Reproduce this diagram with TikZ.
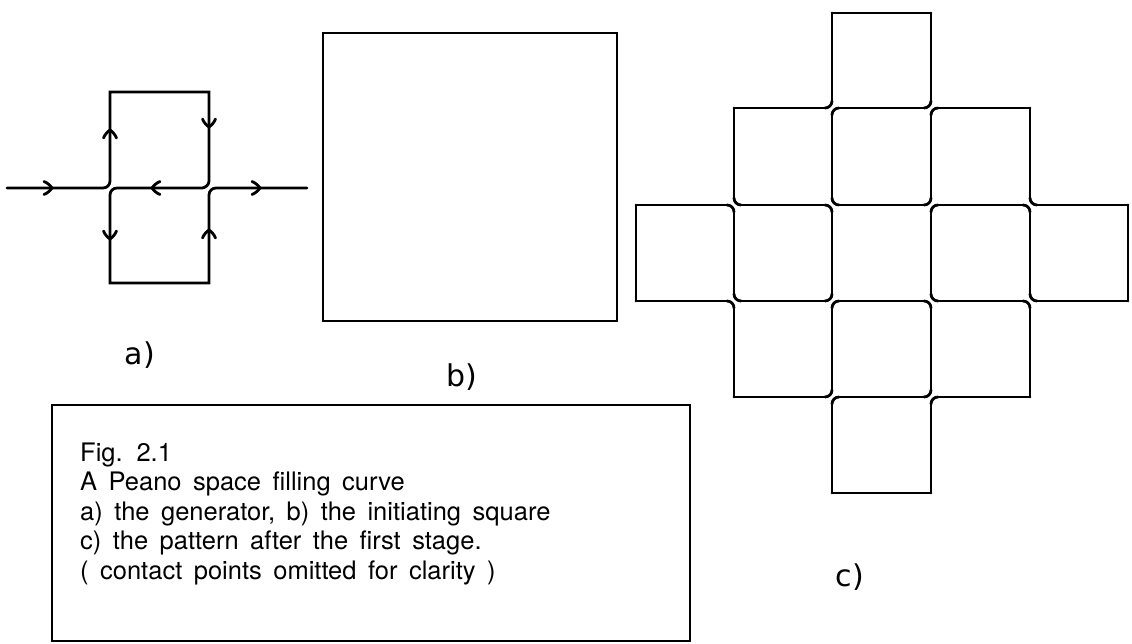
\documentclass[tikz,border=0pt]{standalone}
\usepackage{fontspec}
\newfontfamily\capfont{TeX Gyre Heros}
\newfontfamily\labfont{DejaVu Sans}
\newcommand\capsetup{\capfont\fontsize{25.5}{30}\selectfont\spaceskip=0.45em plus 0.1em\relax}
\begin{document}
\begin{tikzpicture}[x=1pt,y=-1pt,
  ln/.style={line width=2.8pt,line cap=round,line join=miter},
  chev/.pic={\draw[ln,line join=round] (-8,-6.5) .. controls (-4,-5) and (-1.5,-2) .. (0,0)
              .. controls (-1.5,2) and (-4,5) .. (-8,6.5);},
  captxt/.style={anchor=base west,inner sep=0pt,font=\capsetup},
  labtxt/.style={inner sep=0pt,font=\labfont\fontsize{30}{30}\selectfont}]
\useasboundingbox (0,0) rectangle (1132,644);

% ---- a) generator
\draw[ln] (7,188) -- (103,188) .. controls (106.9,188) and (110,184.9) .. (110,181)
  -- (110,92) -- (209,92) -- (209,181) .. controls (209,184.9) and (205.1,188) .. (202,188)
  -- (117,188) .. controls (113.1,188) and (110,191.1) .. (110,195)
  -- (110,283) -- (209,283) -- (209,195) .. controls (209,191.1) and (212.1,188) .. (216,188)
  -- (307,188);
\pic at (52,188) {chev};
\pic[rotate=90] at (110,130) {chev};
\pic[rotate=-90] at (209,127) {chev};
\pic[rotate=180] at (152,188) {chev};
\pic at (260,188) {chev};
\pic[rotate=-90] at (110,239) {chev};
\pic[rotate=90] at (209,230) {chev};

% ---- b) initiating square
\draw[ln] (323,33) rectangle (617,321);

% ---- c) first stage
\foreach \y/\a/\b in {13/832/931,
  108/734/825, 108/839/924, 108/938/1030,
  205/636/727, 205/741/825, 205/839/924, 205/938/1023, 205/1037/1128,
  301/636/727, 301/741/825, 301/839/924, 301/938/1023, 301/1037/1128,
  397/734/825, 397/839/924, 397/938/1030,
  493/832/931}
  \draw[ln] (\a,\y) -- (\b,\y);
\foreach \x/\a/\b in {636/205/301, 1128/205/301,
  734/108/198, 734/212/294, 734/308/397,
  1030/108/198, 1030/212/294, 1030/308/397,
  832/13/101, 832/115/198, 832/212/294, 832/308/390, 832/404/493,
  931/13/101, 931/115/198, 931/212/294, 931/308/390, 931/404/493}
  \draw[ln] (\x,\a) -- (\x,\b);
% corners joining left-up and down-right
\foreach \x/\y in {832/108, 931/108, 931/205, 832/301, 832/397, 931/397}{
  \draw[ln] (\x-7,\y) .. controls (\x-3.1,\y) and (\x,\y-3.1) .. (\x,\y-7);
  \draw[ln] (\x,\y+7) .. controls (\x,\y+3.1) and (\x+3.1,\y) .. (\x+7,\y);
}
% corners joining up-right and left-down
\foreach \x/\y in {734/205, 832/205, 1030/205, 734/301, 931/301, 1030/301}{
  \draw[ln] (\x,\y-7) .. controls (\x,\y-3.1) and (\x+3.1,\y) .. (\x+7,\y);
  \draw[ln] (\x-7,\y) .. controls (\x-3.1,\y) and (\x,\y+3.1) .. (\x,\y+7);
}

% ---- labels
\node[labtxt] (la) at (140,355) {a)};
\node[labtxt] (lb) at (462,377) {b)};
\node[labtxt] (lc) at (850,577) {c)};

% ---- caption
\draw[ln] (52,405) rectangle (690,641);
\node[captxt] (c1) at (80,461) {Fig. 2.1};
\node[captxt] (c2) at (80,490.5) {A Peano space filling curve};
\node[captxt] (c3) at (80,520) {a) the generator, b) the initiating square};
\node[captxt] (c4) at (80,549.5) {c) the pattern after the first stage.};
\node[captxt] (c5) at (80,579) {( contact points omitted for clarity )};
\end{tikzpicture}
\end{document}
